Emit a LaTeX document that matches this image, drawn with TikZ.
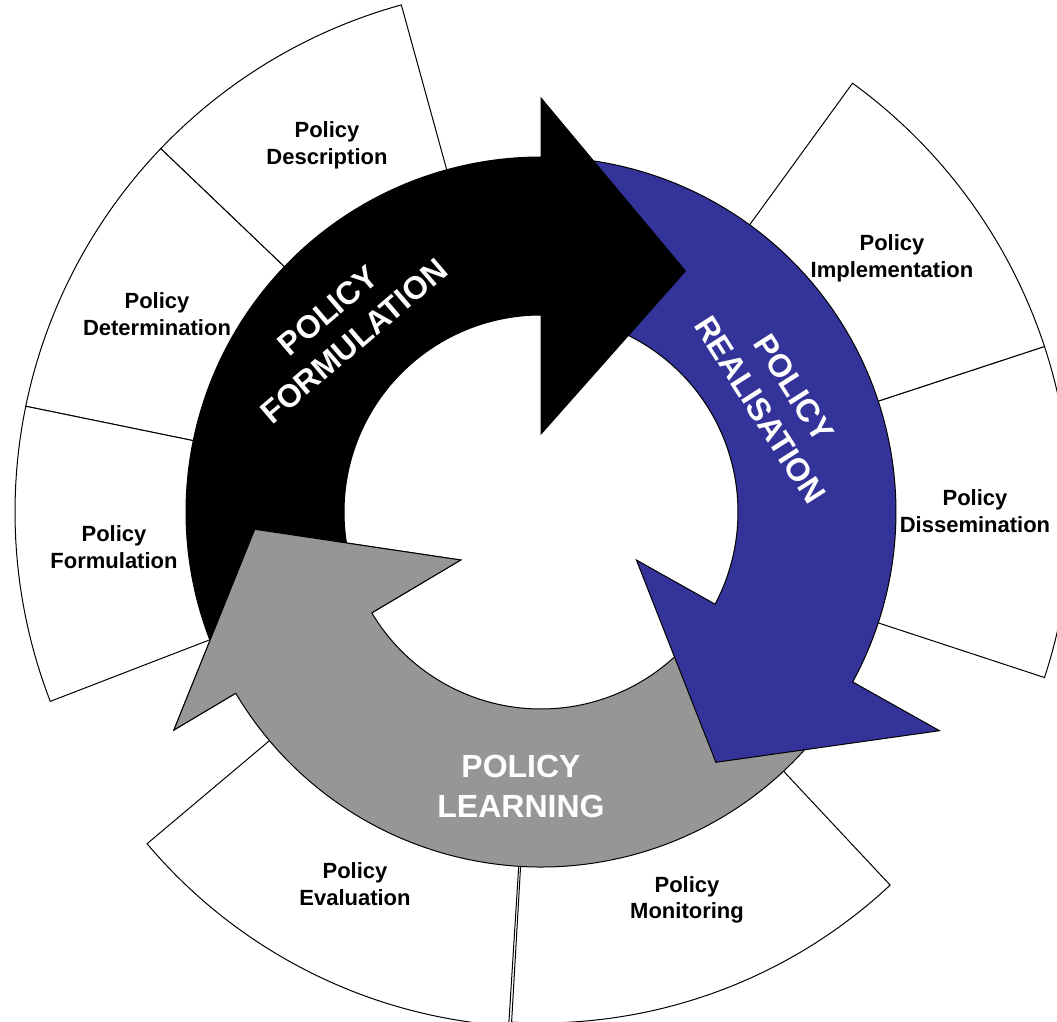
\documentclass[tikz,border=0pt]{standalone}
\usepackage{fontspec}
\setmainfont{Liberation Sans}

\definecolor{realblue}{RGB}{51,51,153}
\definecolor{learngray}{RGB}{150,150,150}

\tikzset{
	sector/.style = {draw=black, fill=white, line width=1pt},
	band/.style = {draw=black, line width=1pt},
	stage/.style = {font=\bfseries\fontsize{22}{26.7}\selectfont, align=center, text=black},
	cyclelabel/.style = {font=\bfseries\fontsize{32}{40}\selectfont, align=center, text=white}
}

\begin{document}
\begin{tikzpicture}[x=1pt, y=1pt]
		\useasboundingbox ( -541, -509 ) rectangle ( 516, 512 );
		\clip ( -541, -509 ) rectangle ( 516, 512 );

		% внешние секторы
		\draw [sector] ( 105.4:300 ) -- ( 105.4:526 ) arc [ start angle = 105.4, end angle = 136.3, radius = 526 ] -- ( 136.3:300 ) arc [ start angle = 136.3, end angle = 105.4, radius = 300 ] -- cycle;
		\draw [sector] ( 136.3:300 ) -- ( 136.3:526 ) arc [ start angle = 136.3, end angle = 168.4, radius = 526 ] -- ( 168.4:300 ) arc [ start angle = 168.4, end angle = 136.3, radius = 300 ] -- cycle;
		\draw [sector] ( 168.4:300 ) -- ( 168.4:526 ) arc [ start angle = 168.4, end angle = 201.1, radius = 526 ] -- ( 201.1:300 ) arc [ start angle = 201.1, end angle = 168.4, radius = 300 ] -- cycle;
		\draw [sector] ( 220.1:300 ) -- ( 220.1:515 ) arc [ start angle = 220.1, end angle = 266.4, radius = 515 ] -- ( 266.4:300 ) arc [ start angle = 266.4, end angle = 220.1, radius = 300 ] -- cycle;
		\draw [sector] ( 266.7:300 ) -- ( 266.7:511 ) arc [ start angle = 266.7, end angle = 313.1, radius = 511 ] -- ( 313.1:300 ) arc [ start angle = 313.1, end angle = 266.7, radius = 300 ] -- cycle;
		\draw [sector] ( -18.2:300 ) -- ( -18.2:530 ) arc [ start angle = -18.2, end angle = 18.2, radius = 530 ] -- ( 18.2:300 ) arc [ start angle = 18.2, end angle = -18.2, radius = 300 ] -- cycle;
		\draw [sector] ( 18.2:300 ) -- ( 18.2:530 ) arc [ start angle = 18.2, end angle = 54.0, radius = 530 ] -- ( 54.0:300 ) arc [ start angle = 54.0, end angle = 18.2, radius = 300 ] -- cycle;

		\node [stage] (descr) at ( -214, 367 ) {Policy\\Description};
		\node [stage] (determ) at ( -384, 198 ) {Policy\\Determination};
		\node [stage] (formul) at ( -427, -35 ) {Policy\\Formulation};
		\node [stage] (evalu) at ( -186, -372 ) {Policy\\Evaluation};
		\node [stage] (monit) at ( 146, -388 ) {Policy\\Monitoring};
		\node [stage] (dissem) at ( 434, 1 ) {Policy\\Dissemination};
		\node [stage] (implem) at ( 351, 254 ) {Policy\\Implementation};

		% обучение
		\draw [band, fill=learngray] ( -40:197 ) -- ( -40:355 ) arc [ start angle = -40, end angle = -149.3, radius = 355 ] -- ( -367.1, -218 ) -- ( -286.2, -17.3 ) -- ( -80.3, -48 ) -- ( -149.2:197 ) arc [ start angle = -149.2, end angle = -40, radius = 197 ] -- cycle;

		% реализация
		\draw [band, fill=realblue] ( 84:197 ) -- ( 84:355 ) arc [ start angle = 84, end angle = -28.6, radius = 355 ] -- ( 398.5, -218.7 ) -- ( 174.9, -250.3 ) -- ( 95.4, -48 ) -- ( -27.9:197 ) arc [ start angle = -27.9, end angle = 84, radius = 197 ] -- cycle;

		% формулирование
		\draw [band, fill=black] ( 205:197 ) -- ( 205:355 ) arc [ start angle = 205, end angle = 90, radius = 355 ] -- ( 0, 414 ) -- ( 144.4, 241 ) -- ( 0, 78 ) -- ( 90:197 ) arc [ start angle = 90, end angle = 205, radius = 197 ] -- cycle;

		% наконечник обучения поверх хвоста
		\fill [learngray] ( -367.1, -218 ) -- ( -286.2, -17.3 ) -- ( -80.3, -48 ) -- cycle;
		\draw [line width=1pt] ( -149.3:355 ) -- ( -367.1, -218 ) -- ( -286.2, -17.3 ) -- ( -80.3, -48 ) -- ( -149.2:197 );

		\node [cyclelabel, rotate=40.5] (formtext) at ( -200, 186 ) {POLICY\\FORMULATION};
		\node [cyclelabel, rotate=-57.5] (realtext) at ( 236, 113 ) {POLICY\\REALISATION};
		\node [cyclelabel] (learntext) at ( -20, -274 ) {POLICY\\LEARNING};
	\end{tikzpicture}
\end{document}
